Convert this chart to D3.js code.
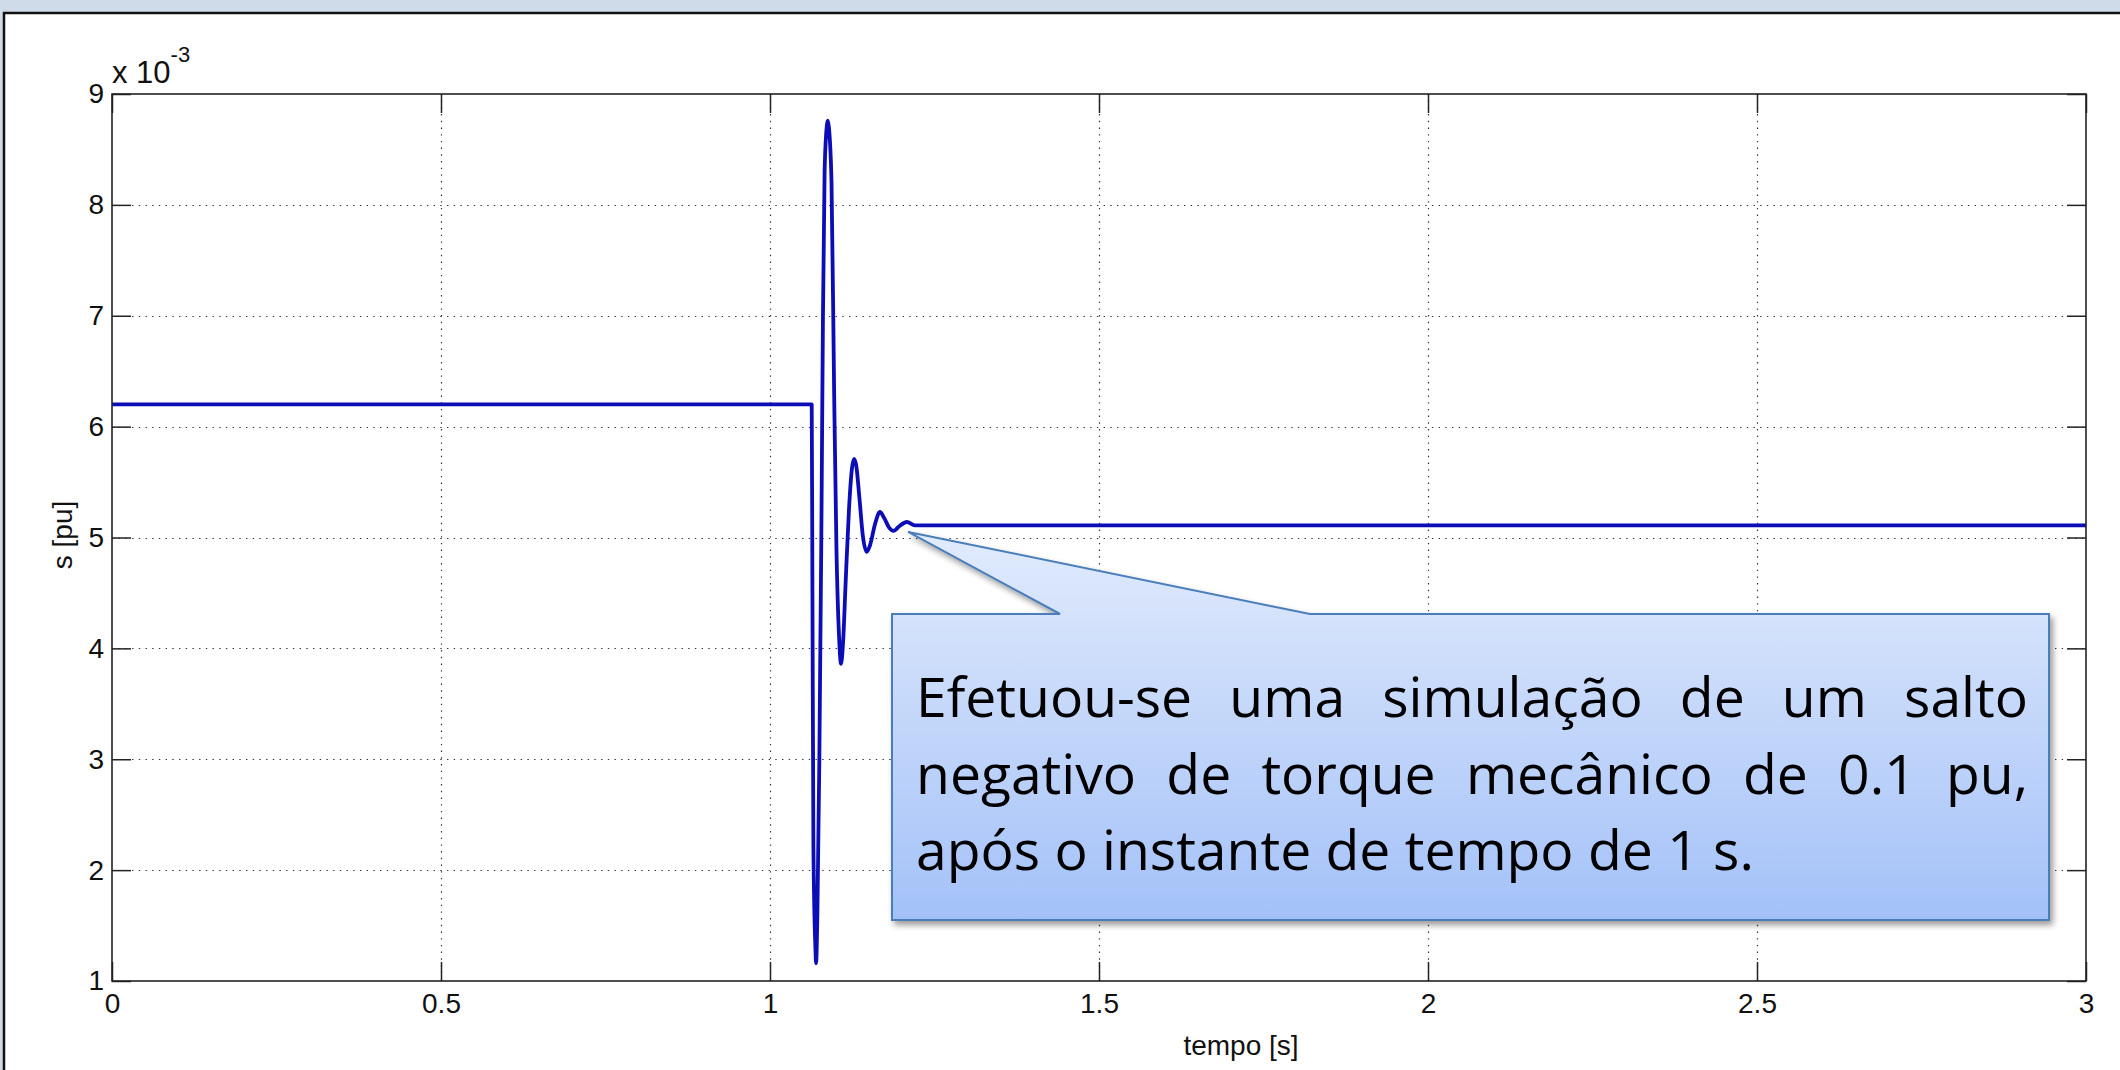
<!DOCTYPE html>
<html>
<head>
<meta charset="utf-8">
<script src="https://cdn.jsdelivr.net/npm/d3@7"></script>
<style>
  body { margin: 0; background: #cfdbe8; }
  svg { display: block; }
</style>
</head>
<body>
<div id="chart"></div>
<script>
// slip s [pu] (x 10^-3) against time [s]
const tempo = [0, 1.0634, 1.0645, 1.066, 1.069, 1.07, 1.072, 1.075, 1.078, 1.0805, 1.083, 1.0865, 1.0877,
  1.0895, 1.0935, 1.0975, 1.101, 1.105, 1.108, 1.111, 1.115, 1.12, 1.1245, 1.1277, 1.131, 1.136, 1.141,
  1.147, 1.152, 1.16, 1.167, 1.174, 1.181, 1.188, 1.196, 1.208, 1.22, 3];
const slip = [6.2, 6.2, 4.5, 2.2, 1.3, 1.16, 1.6, 3.0, 5.0, 7.0, 8.3, 8.72, 8.76,
  8.7, 8.2, 6.3, 4.9, 4.1, 3.86, 4.05, 4.6, 5.25, 5.62, 5.71, 5.65, 5.35, 5.02,
  4.87, 4.93, 5.13, 5.23, 5.17, 5.09, 5.06, 5.1, 5.14, 5.11, 5.11];

const xTicks = [0, 0.5, 1, 1.5, 2, 2.5, 3];
const xTickLabels = ["0", "0.5", "1", "1.5", "2", "2.5", "3"];
const yTicks = [1, 2, 3, 4, 5, 6, 7, 8, 9];
const yTickLabels = ["1", "2", "3", "4", "5", "6", "7", "8", "9"];

const calloutTip = [1.21, 5.05];
const calloutLines = [
  "Efetuou-se uma simulação de um salto",
  "negativo de torque mecânico de 0.1 pu,",
  "após o instante de tempo de 1 s."
];

const width = 2120, height = 1070;
const plot = { left: 112, top: 94, right: 2086, bottom: 981 };

const svg = d3.select("#chart").append("svg")
  .attr("width", width)
  .attr("height", height);

const defs = svg.append("defs");
const grad = defs.append("linearGradient")
  .attr("id", "boxFill").attr("x1", 0).attr("y1", 0).attr("x2", 0).attr("y2", 1);
grad.append("stop").attr("offset", "0%").attr("stop-color", "#e1ebfd");
grad.append("stop").attr("offset", "22%").attr("stop-color", "#d4e2fb");
grad.append("stop").attr("offset", "100%").attr("stop-color", "#a3c1f8");

const shadow = defs.append("filter").attr("id", "shadow")
  .attr("x", "-5%").attr("y", "-5%").attr("width", "115%").attr("height", "120%");
shadow.append("feDropShadow")
  .attr("dx", 3).attr("dy", 4).attr("stdDeviation", 3)
  .attr("flood-color", "#000").attr("flood-opacity", 0.4);

// white panel with its dark edge
svg.append("rect")
  .attr("x", 4).attr("y", 13)
  .attr("width", width + 20).attr("height", height + 20)
  .attr("fill", "#fff")
  .attr("stroke", "#111")
  .attr("stroke-width", 2.5);

const x = d3.scaleLinear().domain([0, 3]).range([plot.left, plot.right]);
const y = d3.scaleLinear().domain([1, 9]).range([plot.bottom, plot.top]);

// grid
const grid = svg.append("g")
  .attr("stroke", "#333")
  .attr("stroke-width", 1.2)
  .attr("stroke-dasharray", "1.4,5.3");

grid.selectAll(".vg").data(xTicks.slice(1, -1)).enter().append("line")
  .attr("x1", d => Math.round(x(d)) + 0.5).attr("x2", d => Math.round(x(d)) + 0.5)
  .attr("y1", plot.top).attr("y2", plot.bottom);

grid.selectAll(".hg").data(yTicks.slice(1, -1)).enter().append("line")
  .attr("y1", d => Math.round(y(d)) + 0.5).attr("y2", d => Math.round(y(d)) + 0.5)
  .attr("x1", plot.left).attr("x2", plot.right);

// axes with inward ticks on all four sides
const tickLen = 19;
const fontAxis = "'Liberation Sans', Arial, sans-serif";

const xAxisB = d3.axisBottom(x).tickValues(xTicks)
  .tickFormat((d, i) => xTickLabels[i]).tickSizeInner(-tickLen).tickSizeOuter(0).tickPadding(12);
const xAxisT = d3.axisTop(x).tickValues(xTicks).tickFormat("").tickSizeInner(-tickLen).tickSizeOuter(0);
const yAxisL = d3.axisLeft(y).tickValues(yTicks)
  .tickFormat((d, i) => yTickLabels[i]).tickSizeInner(-tickLen).tickSizeOuter(0).tickPadding(8);
const yAxisR = d3.axisRight(y).tickValues(yTicks).tickFormat("").tickSizeInner(-tickLen).tickSizeOuter(0);

function styleAxis(g) {
  g.select(".domain").remove();
  g.selectAll(".tick line").attr("stroke", "#222").attr("stroke-width", 1.5);
  g.selectAll(".tick text")
    .attr("fill", "#111")
    .style("font-family", fontAxis)
    .style("font-size", "28px");
}

svg.append("g").attr("transform", `translate(0,${plot.bottom})`).call(xAxisB).call(styleAxis);
svg.append("g").attr("transform", `translate(0,${plot.top})`).call(xAxisT).call(styleAxis);
svg.append("g").attr("transform", `translate(${plot.left},0)`).call(yAxisL).call(styleAxis);
svg.append("g").attr("transform", `translate(${plot.right},0)`).call(yAxisR).call(styleAxis);

// the signal
const points = tempo.map((t, i) => [t, slip[i]]);
const line = d3.line()
  .x(d => x(d[0]))
  .y(d => y(d[1]))
  .curve(d3.curveMonotoneX);

svg.append("path")
  .datum(points)
  .attr("fill", "none")
  .attr("stroke", "#0d0db8")
  .attr("stroke-width", 3.8)
  .attr("stroke-linejoin", "round")
  .attr("d", line);

// box
svg.append("rect")
  .attr("x", plot.left).attr("y", plot.top)
  .attr("width", plot.right - plot.left).attr("height", plot.bottom - plot.top)
  .attr("fill", "none")
  .attr("stroke", "#222")
  .attr("stroke-width", 1.6);

// exponent label
const expo = svg.append("text")
  .attr("x", plot.left).attr("y", 83)
  .style("font-family", fontAxis)
  .style("font-size", "31px")
  .attr("fill", "#111");
expo.append("tspan").text("x 10");
expo.append("tspan").attr("dy", -21).style("font-size", "22px").text("-3");

// axis titles
svg.append("text")
  .attr("transform", `translate(72,535) rotate(-90)`)
  .attr("text-anchor", "middle")
  .style("font-family", fontAxis)
  .style("font-size", "28px")
  .attr("fill", "#111")
  .text("s [pu]");

svg.append("text")
  .attr("x", 1241).attr("y", 1055)
  .attr("text-anchor", "middle")
  .style("font-family", fontAxis)
  .style("font-size", "28px")
  .attr("fill", "#111")
  .text("tempo [s]");

// callout
const box = { left: 892, top: 614, right: 2049, bottom: 920 };
const tipX = x(calloutTip[0]), tipY = y(calloutTip[1]);
const calloutPath = d3.path();
calloutPath.moveTo(box.left, box.top);
calloutPath.lineTo(1060, box.top);
calloutPath.lineTo(tipX, tipY);
calloutPath.lineTo(1310, box.top);
calloutPath.lineTo(box.right, box.top);
calloutPath.lineTo(box.right, box.bottom);
calloutPath.lineTo(box.left, box.bottom);
calloutPath.closePath();

svg.append("path")
  .attr("d", calloutPath.toString())
  .attr("fill", "url(#boxFill)")
  .attr("stroke", "#4a7ebb")
  .attr("stroke-width", 2)
  .attr("stroke-linejoin", "miter")
  .attr("filter", "url(#shadow)");

const textLeft = 916, textRight = 2028;
const baselines = [717, 794, 870];
const fontBox = "'Open Sans', 'Noto Sans', sans-serif";

// pick a size so the last (unjustified) line has the width seen in the picture
const probe = svg.append("text")
  .style("font-family", fontBox).style("font-size", "56px")
  .text(calloutLines[2]);
const probeW = probe.node().getComputedTextLength();
probe.remove();
const boxFontSize = Math.min(60, 56 * 838 / probeW);

const textG = svg.append("g")
  .style("font-family", fontBox)
  .style("font-size", boxFontSize + "px")
  .attr("fill", "#000");

calloutLines.forEach((str, li) => {
  if (li === calloutLines.length - 1) {
    textG.append("text").attr("x", textLeft).attr("y", baselines[li]).text(str);
    return;
  }
  const words = str.split(" ");
  const widths = words.map(w => {
    const t = textG.append("text").text(w);
    const wd = t.node().getComputedTextLength();
    t.remove();
    return wd;
  });
  const gap = (textRight - textLeft - d3.sum(widths)) / (words.length - 1);
  let cx = textLeft;
  words.forEach((w, i) => {
    textG.append("text").attr("x", cx).attr("y", baselines[li]).text(w);
    cx += widths[i] + gap;
  });
});
</script>
</body>
</html>
